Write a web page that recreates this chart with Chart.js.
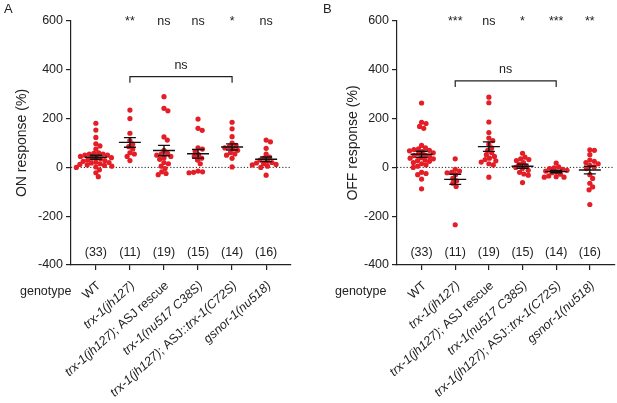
<!DOCTYPE html>
<html>
<head>
<meta charset="utf-8">
<script src="https://cdn.jsdelivr.net/npm/chart.js@4.4.0/dist/chart.umd.min.js"></script>
<style>
  body { margin: 0; background: #fff; }
  #wrap { position: relative; width: 617px; height: 403px; overflow: hidden; font-family: 'Liberation Sans', Arial, sans-serif; color: #222; }
  canvas { position: absolute; top: 0; }
  .lbl { position: absolute; font-size: 12.5px; }
</style>
</head>
<body>
<div id="wrap">
  <canvas id="chartA" width="308" height="403" style="left:0"></canvas>
  <canvas id="chartB" width="309" height="403" style="left:308px"></canvas>
  <div class="lbl" style="left:4px;top:1px;font-size:13px">A</div>
  <div class="lbl" style="left:323px;top:1px;font-size:13px">B</div>
  <div class="lbl" style="left:20px;top:284px">genotype</div>
  <div class="lbl" style="left:335px;top:284px">genotype</div>
</div>
<script>
// genotype labels, as [text, italic] pieces
const genotypes = [
  [['WT', false]],
  [['trx-1(jh127)', true]],
  [['trx-1(jh127)', true], ['; ASJ rescue', false]],
  [['trx-1(nu517 C38S)', true]],
  [['trx-1(jh127)', true], ['; ASJ::', false], ['trx-1(C72S)', true]],
  [['gsnor-1(nu518)', true]]
];
const counts = [33, 11, 19, 15, 14, 16];
const yTicks = [-400, -200, 0, 200, 400, 600];

// ON response (%) per animal
const onWT = [181, 153, 123, 97, 88, 75, 60, 58, 55, 55, 50, 50, 45, 42, 40, 38, 35, 30, 28, 25, 22, 20, 18, 15, 12, 10, 8, 5, 2, 0, -10, -22, -38];
const onTrx = [235, 200, 140, 110, 95, 85, 75, 60, 55, 45, 28];
const onRescue = [290, 242, 232, 125, 112, 70, 55, 58, 50, 45, 40, 33, 20, 15, 5, -5, -18, -25, -30];
const onC38S = [198, 160, 152, 80, 75, 65, 52, 45, 38, 30, 15, -15, -18, -22, -20];
const onC72S = [185, 158, 126, 100, 90, 85, 80, 75, 70, 60, 55, 50, 37, 2];
const onGsnor = [112, 105, 78, 55, 42, 38, 30, 25, 20, 18, 15, 12, 10, 5, 0, -32];

// OFF response (%) per animal
const offWT = [264, 185, 180, 168, 160, 90, 80, 76, 73, 70, 68, 65, 60, 55, 50, 48, 45, 40, 38, 35, 30, 28, 25, 20, 15, 10, 5, 0, -20, -25, -30, -48, -88];
const offTrx = [35, -8, -15, -20, -22, -30, -45, -55, -65, -78, -235];
const offRescue = [288, 265, 186, 143, 120, 110, 95, 80, 70, 60, 52, 45, 38, 32, 27, 22, 15, 10, -40];
const offC38S = [58, 42, 35, 32, 28, 20, 12, 5, 0, -5, -12, -20, -27, -32, -62];
const offC72S = [18, 2, -2, -5, -8, -12, -15, -18, -22, -28, -35, -38, -40, -40];
const offGsnor = [72, 70, 52, 30, 25, 20, 15, 8, 2, -5, -30, -45, -65, -80, -92, -152];

const sigOn = ['', '**', 'ns', 'ns', '*', 'ns'];
const sigOff = ['', '***', 'ns', '*', '***', '**'];
const bracketOn = { from: 1, to: 4, value: 372, text: 'ns' };
const bracketOff = { from: 1, to: 4, value: 355, text: 'ns' };

const FONT = "'Liberation Sans', Arial, sans-serif";
const RED = '#e41e26';
const INK = '#222';

function stats(vals) {
  const n = vals.length;
  const m = vals.reduce((a, b) => a + b, 0) / n;
  const sd = Math.sqrt(vals.reduce((a, b) => a + (b - m) * (b - m), 0) / (n - 1));
  return { mean: m, sem: sd / Math.sqrt(n) };
}

// beeswarm: spread points sideways so they don't overlap too much
function swarm(chart) {
  const xs = chart.scales.x, ys = chart.scales.y;
  const perCat = xs.getPixelForValue(1) - xs.getPixelForValue(0);
  const D = 4.6;
  chart.data.datasets.forEach((ds, gi) => {
    const order = ds.data.map((p, i) => i).sort((a, b) => ds.data[b].y - ds.data[a].y);
    const placed = [];
    order.forEach(i => {
      const py = ys.getPixelForValue(ds.data[i].y);
      const near = placed.filter(p => Math.abs(p.y - py) < D);
      const cands = [0];
      near.forEach(p => {
        const w = Math.sqrt(D * D - (p.y - py) * (p.y - py));
        cands.push(p.x + w, p.x - w);
      });
      cands.sort((a, b) => Math.abs(a) - Math.abs(b));
      let dx = 0;
      for (const c of cands) {
        if (near.every(p => Math.hypot(p.x - c, p.y - py) >= D - 0.01)) { dx = c; break; }
      }
      placed.push({ x: dx, y: py });
      ds.data[i].x = gi + dx / perCat;
    });
  });
  chart.update('none');
}

const marks = {
  id: 'marks',
  beforeDatasetsDraw(chart) {
    const { ctx, chartArea, scales: { y } } = chart;
    const y0 = y.getPixelForValue(0);
    ctx.save();
    ctx.strokeStyle = INK;
    ctx.lineWidth = 1;
    ctx.setLineDash([1.2, 2]);
    ctx.beginPath();
    ctx.moveTo(chartArea.left, y0);
    ctx.lineTo(chartArea.right, y0);
    ctx.stroke();
    ctx.restore();
  },
  afterDatasetsDraw(chart) {
    const { ctx, scales: { x, y } } = chart;
    const o = chart.options.plugins.marks;
    ctx.save();
    ctx.strokeStyle = '#111';
    ctx.lineWidth = 1.4;
    chart.data.datasets.forEach((ds, gi) => {
      const s = stats(ds.data.map(p => p.y));
      const cx = x.getPixelForValue(gi);
      const my = y.getPixelForValue(s.mean);
      const hi = y.getPixelForValue(s.mean + s.sem);
      const lo = y.getPixelForValue(s.mean - s.sem);
      ctx.beginPath();
      ctx.moveTo(cx - 11, my); ctx.lineTo(cx + 11, my);
      ctx.moveTo(cx, hi); ctx.lineTo(cx, lo);
      ctx.moveTo(cx - 6, hi); ctx.lineTo(cx + 6, hi);
      ctx.moveTo(cx - 6, lo); ctx.lineTo(cx + 6, lo);
      ctx.stroke();
    });

    ctx.fillStyle = INK;
    ctx.textAlign = 'center';
    ctx.textBaseline = 'middle';
    ctx.font = '12.5px ' + FONT;
    o.sig.forEach((t, i) => ctx.fillText(t, x.getPixelForValue(i), y.getPixelForValue(600) + 1));
    counts.forEach((c, i) => ctx.fillText('(' + c + ')', x.getPixelForValue(i), y.getPixelForValue(-350)));

    // bracket
    const b = o.bracket;
    const bx1 = x.getPixelForValue(b.from), bx2 = x.getPixelForValue(b.to);
    const by = y.getPixelForValue(b.value), bt = y.getPixelForValue(b.value - 25);
    ctx.strokeStyle = INK;
    ctx.lineWidth = 1.2;
    ctx.beginPath();
    ctx.moveTo(bx1, bt); ctx.lineTo(bx1, by); ctx.lineTo(bx2, by); ctx.lineTo(bx2, bt);
    ctx.stroke();
    ctx.fillText(b.text, (bx1 + bx2) / 2, by - 11);

    // rotated genotype labels
    ctx.textAlign = 'left';
    genotypes.forEach((parts, i) => {
      const cx = x.getPixelForValue(i);
      ctx.save();
      ctx.translate(cx + 3, y.bottom + 19);
      ctx.rotate(-42 * Math.PI / 180);
      const fonts = parts.map(p => (p[1] ? 'italic ' : '') + '12.5px ' + FONT);
      let total = 0;
      parts.forEach((p, k) => { ctx.font = fonts[k]; total += ctx.measureText(p[0]).width; });
      let px = -total;
      parts.forEach((p, k) => {
        ctx.font = fonts[k];
        ctx.fillText(p[0], px, 0);
        px += ctx.measureText(p[0]).width;
      });
      ctx.restore();
    });
    ctx.restore();
  }
};

function makeChart(id, groups, title, sig, bracket, padLeft, yWidth, padRight) {
  const chart = new Chart(document.getElementById(id), {
    type: 'scatter',
    data: {
      datasets: groups.map((vals, gi) => ({
        data: vals.map(v => ({ x: gi, y: v })),
        backgroundColor: RED,
        borderWidth: 0,
        pointRadius: 2.6,
        pointHoverRadius: 2.6
      }))
    },
    options: {
      responsive: false,
      animation: false,
      events: [],
      layout: { padding: { left: padLeft, right: padRight, top: 21, bottom: 0 } },
      plugins: {
        legend: { display: false },
        tooltip: { enabled: false },
        marks: { sig: sig, bracket: bracket }
      },
      scales: {
        x: {
          type: 'linear',
          min: -0.73,
          max: 5.73,
          afterBuildTicks: s => { s.ticks = [0, 1, 2, 3, 4, 5].map(v => ({ value: v })); },
          afterFit: s => { s.height = 138; },
          ticks: { callback: () => '' },
          grid: { drawOnChartArea: false, drawTicks: true, tickLength: 5, color: INK, lineWidth: 1.2 },
          border: { color: INK, width: 1.2 }
        },
        y: {
          min: -400,
          max: 600,
          afterBuildTicks: s => { s.ticks = yTicks.map(v => ({ value: v })); },
          afterFit: s => { s.width = yWidth; },
          ticks: { color: INK, font: { family: FONT, size: 12.5 }, padding: 3 },
          grid: { drawOnChartArea: false, drawTicks: true, tickLength: 5, color: INK, lineWidth: 1.2 },
          border: { color: INK, width: 1.2 },
          title: { display: true, text: title, color: INK, font: { family: FONT, size: 14 }, padding: { top: 14, bottom: 0 } }
        }
      }
    },
    plugins: [marks]
  });
  swarm(chart);
  return chart;
}

makeChart('chartA', [onWT, onTrx, onRescue, onC38S, onC72S, onGsnor], 'ON response (%)', sigOn, bracketOn, 0, 71, 17);
makeChart('chartB', [offWT, offTrx, offRescue, offC38S, offC72S, offGsnor], 'OFF response (%)', sigOff, bracketOff, 23, 66, 1);
</script>
</body>
</html>
